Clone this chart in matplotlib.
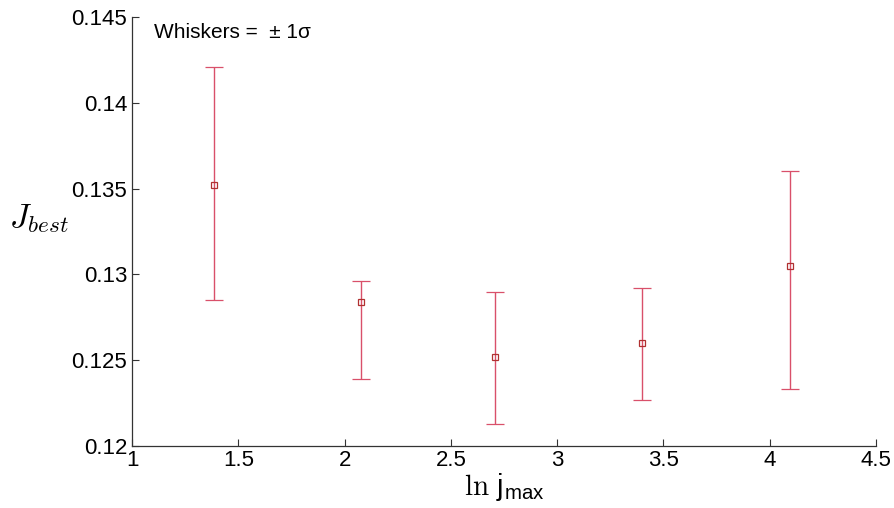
import numpy as np
import matplotlib
matplotlib.use('Agg')
import matplotlib.pyplot as plt

plt.rcParams['font.family'] = ['Liberation Sans', 'DejaVu Sans']
plt.rcParams['mathtext.fontset'] = 'custom'
plt.rcParams['mathtext.rm'] = 'cmr10'
plt.rcParams['mathtext.it'] = 'cmmi10'
plt.rcParams['mathtext.sf'] = 'Liberation Sans'

# datos
j_max = np.array([4, 8, 15, 30, 60])
j_best = [0.1352, 0.1284, 0.1252, 0.1260, 0.1305]
j_low = [0.1285, 0.1239, 0.1213, 0.1227, 0.1233]
j_high = [0.1421, 0.1296, 0.1290, 0.1292, 0.1360]

x = np.log(j_max)
y = np.array(j_best)
yerr = np.array([y - np.array(j_low), np.array(j_high) - y])

fig = plt.figure(figsize=(8.95, 5.08), dpi=100)
ax = fig.add_axes([0.1475, 0.122, 0.8313, 0.8445])

ax.errorbar(x, y, yerr=yerr, fmt='s', color='#d04055', ecolor='#d9506a',
            elinewidth=1, capsize=6.5, capthick=1, markersize=4.5,
            markerfacecolor='none', markeredgecolor='#b03030', markeredgewidth=0.9)

ax.set_xlim(1, 4.5)
ax.set_ylim(0.12, 0.145)
ax.set_xticks([1, 1.5, 2, 2.5, 3, 3.5, 4, 4.5])
ax.set_xticklabels(['1', '1.5', '2', '2.5', '3', '3.5', '4', '4.5'])
ax.set_yticks([0.12, 0.125, 0.13, 0.135, 0.14, 0.145])
ax.set_yticklabels(['0.12', '0.125', '0.13', '0.135', '0.14', '0.145'])

ax.spines['top'].set_visible(False)
ax.spines['right'].set_visible(False)
for s in ['left', 'bottom']:
    ax.spines[s].set_color('#333333')
    ax.spines[s].set_linewidth(0.9)
ax.tick_params(direction='in', length=5, labelsize=16, colors='#333333',
               labelcolor='black', pad=2)
ax.tick_params(axis='y', pad=3.5)
ax.tick_params(axis='x', pad=3)

ax.set_xlabel(r'$\mathrm{ln}\ \mathsf{j}_{\mathsf{max}}$', fontsize=21, labelpad=0)
ax.set_ylabel(r'$J_{best}$', fontsize=24, rotation=0, va='center', ha='center')
ax.yaxis.set_label_coords(-0.125, 0.53)

ax.text(0.03, 0.985, 'Whiskers =  \u00b1 1\u03c3', transform=ax.transAxes,
        fontsize=15, va='top', ha='left')

fig.savefig('out.png', dpi=100)
